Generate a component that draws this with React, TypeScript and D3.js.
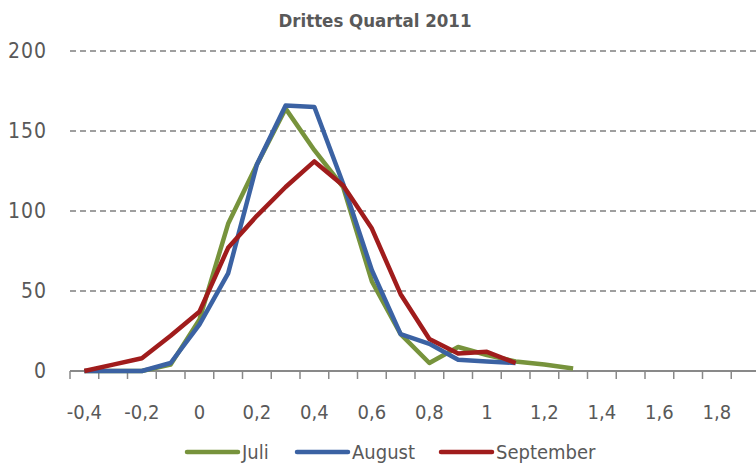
import { useEffect, useRef } from "react";
import * as d3 from "d3";

const categories = [
  "-0,4", "-0,3", "-0,2", "-0,1", "0", "0,1", "0,2", "0,3", "0,4", "0,5", "0,6", "0,7",
  "0,8", "0,9", "1", "1,1", "1,2", "1,3", "1,4", "1,5", "1,6", "1,7", "1,8", "1,9",
];
const juli = [0, 0, 0, 4, 32, 92, 129, 164, 138, 115, 56, 23, 5, 15, 10, 6, 4, 1.5];
const august = [0, 0, 0, 5, 29, 61, 129, 166, 165, 117, 63, 23, 17, 7, 6, 5];
const september = [0, 4, 8, 22, 37, 77, 97, 115, 131, 116, 89, 48, 20, 11, 12, 5];
const yTicks = [0, 50, 100, 150, 200];

const series = [
  { name: "Juli", values: juli, color: "#77933c" },
  { name: "August", values: august, color: "#3b62a3" },
  { name: "September", values: september, color: "#a01c1c" },
];

const FONT = "'DejaVu Sans Condensed', 'Liberation Sans Narrow', sans-serif";

export default function App() {
  const ref = useRef<SVGSVGElement>(null);

  useEffect(() => {
    const svg = d3.select(ref.current);
    svg.selectAll("*").remove();

    const left = 70, right = 760, top = 51, bottom = 371;

    const x = d3.scaleBand<string>().domain(categories).range([left, right]);
    const y = d3.scaleLinear().domain([0, 200]).range([bottom, top]);

    svg
      .append("text")
      .attr("x", 375)
      .attr("y", 27)
      .attr("text-anchor", "middle")
      .attr("font-weight", "bold")
      .attr("font-size", 18.5)
      .attr("fill", "#595959")
      .text("Drittes Quartal 2011");

    // gridlines
    svg
      .append("g")
      .selectAll("line")
      .data(yTicks.filter((d) => d > 0))
      .join("line")
      .attr("x1", left)
      .attr("x2", 756)
      .attr("y1", (d) => y(d))
      .attr("y2", (d) => y(d))
      .attr("stroke", "#808080")
      .attr("stroke-width", 1.5)
      .attr("stroke-dasharray", "6 4");

    // y labels
    svg
      .append("g")
      .selectAll("text")
      .data(yTicks)
      .join("text")
      .attr("x", 47)
      .attr("y", (d) => y(d) + 7)
      .attr("text-anchor", "end")
      .attr("font-size", 21)
      .attr("letter-spacing", 1)
      .attr("fill", "#595959")
      .text((d) => d);

    // x axis
    const xAxis = svg.append("g");
    xAxis
      .append("line")
      .attr("x1", left)
      .attr("x2", 756)
      .attr("y1", bottom)
      .attr("y2", bottom)
      .attr("stroke", "#898989")
      .attr("stroke-width", 2);
    xAxis
      .selectAll("line.tick")
      .data(categories)
      .join("line")
      .attr("class", "tick")
      .attr("x1", (d) => x(d)!)
      .attr("x2", (d) => x(d)!)
      .attr("y1", bottom)
      .attr("y2", bottom + 8)
      .attr("stroke", "#898989")
      .attr("stroke-width", 1.5);
    xAxis
      .selectAll("text")
      .data(categories.filter((_, i) => i % 2 === 0))
      .join("text")
      .attr("x", (d) => x(d)! + x.bandwidth() / 2)
      .attr("y", 419)
      .attr("text-anchor", "middle")
      .attr("font-size", 20)
      .attr("fill", "#595959")
      .text((d) => d);

    const line = d3
      .line<number>()
      .x((_, i) => x(categories[i])! + x.bandwidth() / 2)
      .y((d) => y(d));

    svg
      .append("g")
      .selectAll("path")
      .data(series)
      .join("path")
      .attr("d", (s) => line(s.values))
      .attr("fill", "none")
      .attr("stroke", (s) => s.color)
      .attr("stroke-width", 4.5)
      .attr("stroke-linejoin", "round");

    // legend
    const legendX = [187, 297, 441];
    const legend = svg
      .append("g")
      .selectAll("g")
      .data(series)
      .join("g")
      .attr("transform", (_, i) => `translate(${legendX[i]},452)`);
    legend
      .append("line")
      .attr("x1", 0)
      .attr("x2", 51)
      .attr("stroke", (s) => s.color)
      .attr("stroke-width", 4.5)
      .attr("stroke-linecap", "round");
    legend
      .append("text")
      .attr("x", 55)
      .attr("y", 7)
      .attr("font-size", 20)
      .attr("fill", "#595959")
      .text((s) => s.name);

    svg.selectAll("text").attr("font-family", FONT);
  }, []);

  return (
    <svg
      ref={ref}
      width={756}
      height={464}
      style={{ position: "absolute", left: 0, top: 0, background: "#fff" }}
    />
  );
}
